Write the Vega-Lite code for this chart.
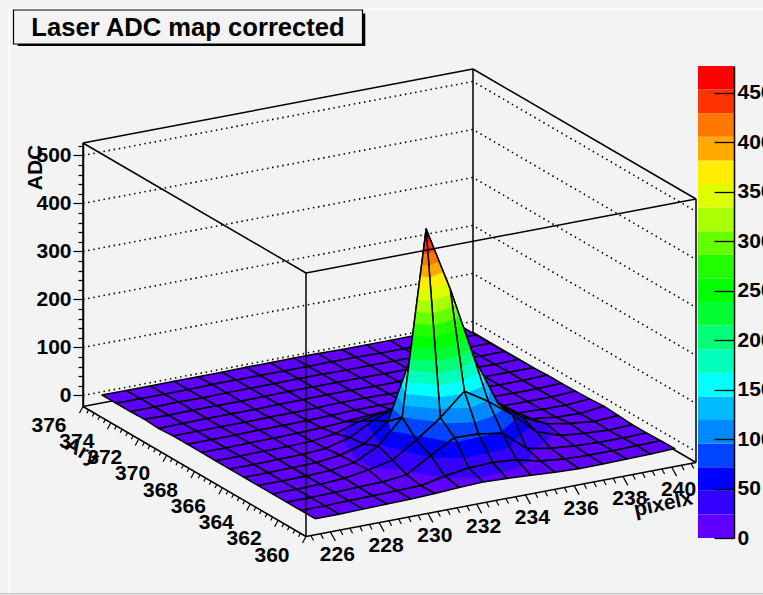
{"$schema":"https://vega.github.io/schema/vega-lite/v6.json","width":763,"height":595,"padding":0,"autosize":{"type":"none"},"background":"#f3f3f3","config":{"view":{"stroke":null}},
"datasets":{
"surface":[
{"pixel":240,"ary":375,"adc":9},{"pixel":239,"ary":375,"adc":9},{"pixel":238,"ary":375,"adc":9},{"pixel":237,"ary":375,"adc":9},{"pixel":236,"ary":375,"adc":9},{"pixel":235,"ary":375,"adc":9},{"pixel":234,"ary":375,"adc":10},{"pixel":233,"ary":375,"adc":10},{"pixel":232,"ary":375,"adc":10},{"pixel":231,"ary":375,"adc":10},{"pixel":230,"ary":375,"adc":9},{"pixel":229,"ary":375,"adc":9},{"pixel":228,"ary":375,"adc":9},{"pixel":227,"ary":375,"adc":9},{"pixel":226,"ary":375,"adc":9},{"pixel":225,"ary":375,"adc":9},
{"pixel":240,"ary":374,"adc":9},{"pixel":239,"ary":374,"adc":9},{"pixel":238,"ary":374,"adc":9},{"pixel":237,"ary":374,"adc":9},{"pixel":236,"ary":374,"adc":9},{"pixel":235,"ary":374,"adc":10},{"pixel":234,"ary":374,"adc":10},{"pixel":233,"ary":374,"adc":10},{"pixel":232,"ary":374,"adc":10},{"pixel":231,"ary":374,"adc":10},{"pixel":230,"ary":374,"adc":10},{"pixel":229,"ary":374,"adc":10},{"pixel":228,"ary":374,"adc":9},{"pixel":227,"ary":374,"adc":9},{"pixel":226,"ary":374,"adc":9},{"pixel":225,"ary":374,"adc":9},
{"pixel":240,"ary":373,"adc":9},{"pixel":239,"ary":373,"adc":9},{"pixel":238,"ary":373,"adc":9},{"pixel":237,"ary":373,"adc":10},{"pixel":236,"ary":373,"adc":10},{"pixel":235,"ary":373,"adc":10},{"pixel":234,"ary":373,"adc":10},{"pixel":233,"ary":373,"adc":11},{"pixel":232,"ary":373,"adc":11},{"pixel":231,"ary":373,"adc":10},{"pixel":230,"ary":373,"adc":10},{"pixel":229,"ary":373,"adc":10},{"pixel":228,"ary":373,"adc":9},{"pixel":227,"ary":373,"adc":10},{"pixel":226,"ary":373,"adc":9},{"pixel":225,"ary":373,"adc":9},
{"pixel":240,"ary":372,"adc":9},{"pixel":239,"ary":372,"adc":9},{"pixel":238,"ary":372,"adc":10},{"pixel":237,"ary":372,"adc":10},{"pixel":236,"ary":372,"adc":10},{"pixel":235,"ary":372,"adc":10},{"pixel":234,"ary":372,"adc":11},{"pixel":233,"ary":372,"adc":11},{"pixel":232,"ary":372,"adc":11},{"pixel":231,"ary":372,"adc":11},{"pixel":230,"ary":372,"adc":10},{"pixel":229,"ary":372,"adc":10},{"pixel":228,"ary":372,"adc":10},{"pixel":227,"ary":372,"adc":10},{"pixel":226,"ary":372,"adc":9},{"pixel":225,"ary":372,"adc":10},
{"pixel":240,"ary":371,"adc":10},{"pixel":239,"ary":371,"adc":9},{"pixel":238,"ary":371,"adc":10},{"pixel":237,"ary":371,"adc":10},{"pixel":236,"ary":371,"adc":10},{"pixel":235,"ary":371,"adc":11},{"pixel":234,"ary":371,"adc":11},{"pixel":233,"ary":371,"adc":12},{"pixel":232,"ary":371,"adc":12},{"pixel":231,"ary":371,"adc":11},{"pixel":230,"ary":371,"adc":11},{"pixel":229,"ary":371,"adc":10},{"pixel":228,"ary":371,"adc":10},{"pixel":227,"ary":371,"adc":10},{"pixel":226,"ary":371,"adc":9},{"pixel":225,"ary":371,"adc":8},
{"pixel":240,"ary":370,"adc":10},{"pixel":239,"ary":370,"adc":10},{"pixel":238,"ary":370,"adc":10},{"pixel":237,"ary":370,"adc":10},{"pixel":236,"ary":370,"adc":11},{"pixel":235,"ary":370,"adc":11},{"pixel":234,"ary":370,"adc":12},{"pixel":233,"ary":370,"adc":13},{"pixel":232,"ary":370,"adc":13},{"pixel":231,"ary":370,"adc":12},{"pixel":230,"ary":370,"adc":11},{"pixel":229,"ary":370,"adc":11},{"pixel":228,"ary":370,"adc":10},{"pixel":227,"ary":370,"adc":10},{"pixel":226,"ary":370,"adc":10},{"pixel":225,"ary":370,"adc":10},
{"pixel":240,"ary":369,"adc":12},{"pixel":239,"ary":369,"adc":10},{"pixel":238,"ary":369,"adc":10},{"pixel":237,"ary":369,"adc":11},{"pixel":236,"ary":369,"adc":11},{"pixel":235,"ary":369,"adc":12},{"pixel":234,"ary":369,"adc":14},{"pixel":233,"ary":369,"adc":15},{"pixel":232,"ary":369,"adc":15},{"pixel":231,"ary":369,"adc":13},{"pixel":230,"ary":369,"adc":12},{"pixel":229,"ary":369,"adc":11},{"pixel":228,"ary":369,"adc":11},{"pixel":227,"ary":369,"adc":10},{"pixel":226,"ary":369,"adc":10},{"pixel":225,"ary":369,"adc":10},
{"pixel":240,"ary":368,"adc":12},{"pixel":239,"ary":368,"adc":10},{"pixel":238,"ary":368,"adc":10},{"pixel":237,"ary":368,"adc":11},{"pixel":236,"ary":368,"adc":12},{"pixel":235,"ary":368,"adc":14},{"pixel":234,"ary":368,"adc":18},{"pixel":233,"ary":368,"adc":21},{"pixel":232,"ary":368,"adc":21},{"pixel":231,"ary":368,"adc":17},{"pixel":230,"ary":368,"adc":14},{"pixel":229,"ary":368,"adc":12},{"pixel":228,"ary":368,"adc":11},{"pixel":227,"ary":368,"adc":11},{"pixel":226,"ary":368,"adc":10},{"pixel":225,"ary":368,"adc":10},
{"pixel":240,"ary":367,"adc":13},{"pixel":239,"ary":367,"adc":10},{"pixel":238,"ary":367,"adc":10},{"pixel":237,"ary":367,"adc":11},{"pixel":236,"ary":367,"adc":13},{"pixel":235,"ary":367,"adc":18},{"pixel":234,"ary":367,"adc":30},{"pixel":233,"ary":367,"adc":40},{"pixel":232,"ary":367,"adc":45},{"pixel":231,"ary":367,"adc":35},{"pixel":230,"ary":367,"adc":19},{"pixel":229,"ary":367,"adc":13},{"pixel":228,"ary":367,"adc":11},{"pixel":227,"ary":367,"adc":11},{"pixel":226,"ary":367,"adc":10},{"pixel":225,"ary":367,"adc":10},
{"pixel":240,"ary":366,"adc":14},{"pixel":239,"ary":366,"adc":10},{"pixel":238,"ary":366,"adc":11},{"pixel":237,"ary":366,"adc":13},{"pixel":236,"ary":366,"adc":20},{"pixel":235,"ary":366,"adc":35},{"pixel":234,"ary":366,"adc":65},{"pixel":233,"ary":366,"adc":90},{"pixel":232,"ary":366,"adc":75},{"pixel":231,"ary":366,"adc":55},{"pixel":230,"ary":366,"adc":28},{"pixel":229,"ary":366,"adc":15},{"pixel":228,"ary":366,"adc":12},{"pixel":227,"ary":366,"adc":11},{"pixel":226,"ary":366,"adc":10},{"pixel":225,"ary":366,"adc":10},
{"pixel":240,"ary":365,"adc":16},{"pixel":239,"ary":365,"adc":10},{"pixel":238,"ary":365,"adc":12},{"pixel":237,"ary":365,"adc":18},{"pixel":236,"ary":365,"adc":30},{"pixel":235,"ary":365,"adc":60},{"pixel":234,"ary":365,"adc":110},{"pixel":233,"ary":365,"adc":200},{"pixel":232,"ary":365,"adc":200},{"pixel":231,"ary":365,"adc":70},{"pixel":230,"ary":365,"adc":32},{"pixel":229,"ary":365,"adc":18},{"pixel":228,"ary":365,"adc":12},{"pixel":227,"ary":365,"adc":11},{"pixel":226,"ary":365,"adc":10},{"pixel":225,"ary":365,"adc":10},
{"pixel":240,"ary":364,"adc":14},{"pixel":239,"ary":364,"adc":11},{"pixel":238,"ary":364,"adc":16},{"pixel":237,"ary":364,"adc":25},{"pixel":236,"ary":364,"adc":48},{"pixel":235,"ary":364,"adc":86},{"pixel":234,"ary":364,"adc":190},{"pixel":233,"ary":364,"adc":344},{"pixel":232,"ary":364,"adc":478},{"pixel":231,"ary":364,"adc":95},{"pixel":230,"ary":364,"adc":45},{"pixel":229,"ary":364,"adc":20},{"pixel":228,"ary":364,"adc":13},{"pixel":227,"ary":364,"adc":11},{"pixel":226,"ary":364,"adc":10},{"pixel":225,"ary":364,"adc":10},
{"pixel":240,"ary":363,"adc":12},{"pixel":239,"ary":363,"adc":10},{"pixel":238,"ary":363,"adc":13},{"pixel":237,"ary":363,"adc":18},{"pixel":236,"ary":363,"adc":35},{"pixel":235,"ary":363,"adc":80},{"pixel":234,"ary":363,"adc":117},{"pixel":233,"ary":363,"adc":148},{"pixel":232,"ary":363,"adc":102},{"pixel":231,"ary":363,"adc":65},{"pixel":230,"ary":363,"adc":33},{"pixel":229,"ary":363,"adc":22},{"pixel":228,"ary":363,"adc":14},{"pixel":227,"ary":363,"adc":11},{"pixel":226,"ary":363,"adc":10},{"pixel":225,"ary":363,"adc":10},
{"pixel":240,"ary":362,"adc":12},{"pixel":239,"ary":362,"adc":11},{"pixel":238,"ary":362,"adc":11},{"pixel":237,"ary":362,"adc":13},{"pixel":236,"ary":362,"adc":18},{"pixel":235,"ary":362,"adc":27},{"pixel":234,"ary":362,"adc":68},{"pixel":233,"ary":362,"adc":76},{"pixel":232,"ary":362,"adc":78},{"pixel":231,"ary":362,"adc":50},{"pixel":230,"ary":362,"adc":20},{"pixel":229,"ary":362,"adc":14},{"pixel":228,"ary":362,"adc":13},{"pixel":227,"ary":362,"adc":11},{"pixel":226,"ary":362,"adc":10},{"pixel":225,"ary":362,"adc":10},
{"pixel":240,"ary":361,"adc":13},{"pixel":239,"ary":361,"adc":12},{"pixel":238,"ary":361,"adc":11},{"pixel":237,"ary":361,"adc":11},{"pixel":236,"ary":361,"adc":13},{"pixel":235,"ary":361,"adc":18},{"pixel":234,"ary":361,"adc":30},{"pixel":233,"ary":361,"adc":34},{"pixel":232,"ary":361,"adc":32},{"pixel":231,"ary":361,"adc":25},{"pixel":230,"ary":361,"adc":14},{"pixel":229,"ary":361,"adc":13},{"pixel":228,"ary":361,"adc":12},{"pixel":227,"ary":361,"adc":11},{"pixel":226,"ary":361,"adc":10},{"pixel":225,"ary":361,"adc":10},
{"pixel":240,"ary":360,"adc":14},{"pixel":239,"ary":360,"adc":12},{"pixel":238,"ary":360,"adc":11},{"pixel":237,"ary":360,"adc":10},{"pixel":236,"ary":360,"adc":10},{"pixel":235,"ary":360,"adc":12},{"pixel":234,"ary":360,"adc":15},{"pixel":233,"ary":360,"adc":18},{"pixel":232,"ary":360,"adc":20},{"pixel":231,"ary":360,"adc":18},{"pixel":230,"ary":360,"adc":15},{"pixel":229,"ary":360,"adc":13},{"pixel":228,"ary":360,"adc":12},{"pixel":227,"ary":360,"adc":11},{"pixel":226,"ary":360,"adc":10},{"pixel":225,"ary":360,"adc":10}
],
"backBox":[
{"edge":"l","seq":0,"pixel":225,"ary":376,"adc":-23},{"edge":"l","seq":1,"pixel":225,"ary":376,"adc":526},
{"edge":"r","seq":0,"pixel":241,"ary":360,"adc":-23},{"edge":"r","seq":1,"pixel":241,"ary":360,"adc":526},
{"edge":"b","seq":0,"pixel":241,"ary":376,"adc":-23},{"edge":"b","seq":1,"pixel":241,"ary":376,"adc":526},
{"edge":"t1","seq":0,"pixel":225,"ary":376,"adc":526},{"edge":"t1","seq":1,"pixel":241,"ary":376,"adc":526},
{"edge":"t2","seq":0,"pixel":241,"ary":376,"adc":526},{"edge":"t2","seq":1,"pixel":241,"ary":360,"adc":526},
{"edge":"f1","seq":0,"pixel":225,"ary":376,"adc":-23},{"edge":"f1","seq":1,"pixel":241,"ary":376,"adc":-23},
{"edge":"f2","seq":0,"pixel":241,"ary":376,"adc":-23},{"edge":"f2","seq":1,"pixel":241,"ary":360,"adc":-23}
],
"frontBox":[
{"edge":"v","seq":0,"pixel":225,"ary":360,"adc":-23},{"edge":"v","seq":1,"pixel":225,"ary":360,"adc":526},
{"edge":"t1","seq":0,"pixel":225,"ary":360,"adc":526},{"edge":"t1","seq":1,"pixel":225,"ary":376,"adc":526},
{"edge":"t2","seq":0,"pixel":225,"ary":360,"adc":526},{"edge":"t2","seq":1,"pixel":241,"ary":360,"adc":526},
{"edge":"f1","seq":0,"pixel":225,"ary":360,"adc":-23},{"edge":"f1","seq":1,"pixel":225,"ary":376,"adc":-23},
{"edge":"f2","seq":0,"pixel":225,"ary":360,"adc":-23},{"edge":"f2","seq":1,"pixel":241,"ary":360,"adc":-23}
],
"wallGrid":[
{"adc":0,"seq":0,"pixel":225,"ary":376},{"adc":0,"seq":1,"pixel":241,"ary":376},{"adc":0,"seq":2,"pixel":241,"ary":360},
{"adc":100,"seq":0,"pixel":225,"ary":376},{"adc":100,"seq":1,"pixel":241,"ary":376},{"adc":100,"seq":2,"pixel":241,"ary":360},
{"adc":200,"seq":0,"pixel":225,"ary":376},{"adc":200,"seq":1,"pixel":241,"ary":376},{"adc":200,"seq":2,"pixel":241,"ary":360},
{"adc":300,"seq":0,"pixel":225,"ary":376},{"adc":300,"seq":1,"pixel":241,"ary":376},{"adc":300,"seq":2,"pixel":241,"ary":360},
{"adc":400,"seq":0,"pixel":225,"ary":376},{"adc":400,"seq":1,"pixel":241,"ary":376},{"adc":400,"seq":2,"pixel":241,"ary":360},
{"adc":500,"seq":0,"pixel":225,"ary":376},{"adc":500,"seq":1,"pixel":241,"ary":376},{"adc":500,"seq":2,"pixel":241,"ary":360}
],
"ticks":[
{"axis":"pixel","pixel":225.2,"ary":360},{"axis":"pixel","pixel":225.6,"ary":360},{"axis":"pixel","pixel":226,"ary":360},{"axis":"pixel","pixel":226.4,"ary":360},{"axis":"pixel","pixel":226.8,"ary":360},{"axis":"pixel","pixel":227.2,"ary":360},{"axis":"pixel","pixel":227.6,"ary":360},{"axis":"pixel","pixel":228,"ary":360},{"axis":"pixel","pixel":228.4,"ary":360},{"axis":"pixel","pixel":228.8,"ary":360},{"axis":"pixel","pixel":229.2,"ary":360},{"axis":"pixel","pixel":229.6,"ary":360},{"axis":"pixel","pixel":230,"ary":360},{"axis":"pixel","pixel":230.4,"ary":360},{"axis":"pixel","pixel":230.8,"ary":360},{"axis":"pixel","pixel":231.2,"ary":360},{"axis":"pixel","pixel":231.6,"ary":360},{"axis":"pixel","pixel":232,"ary":360},{"axis":"pixel","pixel":232.4,"ary":360},{"axis":"pixel","pixel":232.8,"ary":360},{"axis":"pixel","pixel":233.2,"ary":360},{"axis":"pixel","pixel":233.6,"ary":360},{"axis":"pixel","pixel":234,"ary":360},{"axis":"pixel","pixel":234.4,"ary":360},{"axis":"pixel","pixel":234.8,"ary":360},{"axis":"pixel","pixel":235.2,"ary":360},{"axis":"pixel","pixel":235.6,"ary":360},{"axis":"pixel","pixel":236,"ary":360},{"axis":"pixel","pixel":236.4,"ary":360},{"axis":"pixel","pixel":236.8,"ary":360},{"axis":"pixel","pixel":237.2,"ary":360},{"axis":"pixel","pixel":237.6,"ary":360},{"axis":"pixel","pixel":238,"ary":360},{"axis":"pixel","pixel":238.4,"ary":360},{"axis":"pixel","pixel":238.8,"ary":360},{"axis":"pixel","pixel":239.2,"ary":360},{"axis":"pixel","pixel":239.6,"ary":360},{"axis":"pixel","pixel":240,"ary":360},{"axis":"pixel","pixel":240.4,"ary":360},{"axis":"pixel","pixel":240.8,"ary":360},
{"axis":"ary","pixel":225,"ary":360},{"axis":"ary","pixel":225,"ary":360.4},{"axis":"ary","pixel":225,"ary":360.8},{"axis":"ary","pixel":225,"ary":361.2},{"axis":"ary","pixel":225,"ary":361.6},{"axis":"ary","pixel":225,"ary":362},{"axis":"ary","pixel":225,"ary":362.4},{"axis":"ary","pixel":225,"ary":362.8},{"axis":"ary","pixel":225,"ary":363.2},{"axis":"ary","pixel":225,"ary":363.6},{"axis":"ary","pixel":225,"ary":364},{"axis":"ary","pixel":225,"ary":364.4},{"axis":"ary","pixel":225,"ary":364.8},{"axis":"ary","pixel":225,"ary":365.2},{"axis":"ary","pixel":225,"ary":365.6},{"axis":"ary","pixel":225,"ary":366},{"axis":"ary","pixel":225,"ary":366.4},{"axis":"ary","pixel":225,"ary":366.8},{"axis":"ary","pixel":225,"ary":367.2},{"axis":"ary","pixel":225,"ary":367.6},{"axis":"ary","pixel":225,"ary":368},{"axis":"ary","pixel":225,"ary":368.4},{"axis":"ary","pixel":225,"ary":368.8},{"axis":"ary","pixel":225,"ary":369.2},{"axis":"ary","pixel":225,"ary":369.6},{"axis":"ary","pixel":225,"ary":370},{"axis":"ary","pixel":225,"ary":370.4},{"axis":"ary","pixel":225,"ary":370.8},{"axis":"ary","pixel":225,"ary":371.2},{"axis":"ary","pixel":225,"ary":371.6},{"axis":"ary","pixel":225,"ary":372},{"axis":"ary","pixel":225,"ary":372.4},{"axis":"ary","pixel":225,"ary":372.8},{"axis":"ary","pixel":225,"ary":373.2},{"axis":"ary","pixel":225,"ary":373.6},{"axis":"ary","pixel":225,"ary":374},{"axis":"ary","pixel":225,"ary":374.4},{"axis":"ary","pixel":225,"ary":374.8},{"axis":"ary","pixel":225,"ary":375.2},{"axis":"ary","pixel":225,"ary":375.6},{"axis":"ary","pixel":225,"ary":376}
],
"bands":[{"band":0,"lo":0,"hi":23.85},{"band":1,"lo":23.85,"hi":47.7},{"band":2,"lo":47.7,"hi":71.55},{"band":3,"lo":71.55,"hi":95.4},{"band":4,"lo":95.4,"hi":119.25},{"band":5,"lo":119.25,"hi":143.1},{"band":6,"lo":143.1,"hi":166.95},{"band":7,"lo":166.95,"hi":190.8},{"band":8,"lo":190.8,"hi":214.65},{"band":9,"lo":214.65,"hi":238.5},{"band":10,"lo":238.5,"hi":262.35},{"band":11,"lo":262.35,"hi":286.2},{"band":12,"lo":286.2,"hi":310.05},{"band":13,"lo":310.05,"hi":333.9},{"band":14,"lo":333.9,"hi":357.75},{"band":15,"lo":357.75,"hi":381.6},{"band":16,"lo":381.6,"hi":405.45},{"band":17,"lo":405.45,"hi":429.3},{"band":18,"lo":429.3,"hi":453.15},{"band":19,"lo":453.15,"hi":477}]
},
"layer":[
{"data":{"values":[{"side":"left","x0":0.012,"x1":0.012,"y0":0.015,"y1":1,"shade":"#ffffff"},{"side":"top","x0":0.012,"x1":1,"y0":0.015,"y1":0.015,"shade":"#ffffff"},{"side":"bottom","x0":0,"x1":1,"y0":0.998,"y1":0.998,"shade":"#c8c8c8"}]},"mark":{"type":"rule","strokeWidth":1.5},"encoding":{"x":{"field":"x0","type":"quantitative","scale":{"domain":[0,1],"range":[0,763],"nice":false,"zero":false},"axis":null},"x2":{"field":"x1"},"y":{"field":"y0","type":"quantitative","scale":{"domain":[0,1],"range":[0,595],"nice":false,"zero":false},"axis":null},"y2":{"field":"y1"},"stroke":{"field":"shade","type":"nominal","scale":null}}},
{"encoding":{"x":{"field":"sx","type":"quantitative","scale":{"domain":[0,763],"range":[0,763],"nice":false,"zero":false},"axis":null},"y":{"field":"sy","type":"quantitative","scale":{"domain":[0,595],"range":[0,595],"nice":false,"zero":false},"axis":null}},
"layer":[
{"data":{"name":"wallGrid"},"transform":[{"calculate":"(datum.pixel-225)/16","as":"lx"},{"calculate":"(datum.ary-360)/16","as":"ly"},{"calculate":"306+390*datum.lx-223*datum.ly","as":"sx"},{"calculate":"536.5-74*datum.lx-130*datum.ly-(datum.adc+23)*0.48","as":"sy"}],"mark":{"type":"line","stroke":"#000","strokeWidth":1.6,"strokeDash":[1.5,3.7]},"encoding":{"detail":{"field":"adc"},"order":{"field":"seq"}}},
{"data":{"name":"backBox"},"transform":[{"calculate":"(datum.pixel-225)/16","as":"lx"},{"calculate":"(datum.ary-360)/16","as":"ly"},{"calculate":"306+390*datum.lx-223*datum.ly","as":"sx"},{"calculate":"536.5-74*datum.lx-130*datum.ly-(datum.adc+23)*0.48","as":"sy"}],"mark":{"type":"line","stroke":"#000","strokeWidth":1.5},"encoding":{"detail":{"field":"edge"},"order":{"field":"seq"}}},
{"data":{"name":"surface"},"transform":[
{"calculate":"['a','b','c','d']","as":"corner"},{"flatten":["corner"]},
{"calculate":"datum.pixel-225-((datum.corner=='b'||datum.corner=='c')?1:0)","as":"qi"},
{"calculate":"datum.ary-360-((datum.corner=='c'||datum.corner=='d')?1:0)","as":"qj"},
{"filter":"datum.qi>=0&&datum.qi<15&&datum.qj>=0&&datum.qj<15"},
{"pivot":"corner","value":"adc","groupby":["qi","qj"],"op":"max"},
{"calculate":"[datum.a,datum.b,datum.c,datum.d]","as":"zs"},
{"calculate":"max(datum.a,datum.b,datum.c,datum.d)","as":"zmax"},
{"calculate":"[0,1,2,3,4,5,6,7,8,9,10,11,12,13,14,15,16,17,18,19,20]","as":"lv"},{"flatten":["lv"]},
{"filter":"datum.lv==20||datum.lv*23.85<=datum.zmax"},
{"calculate":"[0,1,2,3,4]","as":"c"},{"flatten":["c"]},
{"calculate":"[0,1]","as":"s"},{"flatten":["s"]},
{"calculate":"(datum.lv==0||datum.lv==20)?-1000000:datum.lv*23.85","as":"cut"},
{"calculate":"datum.zs[datum.c%4]","as":"z0"},
{"calculate":"datum.zs[(datum.c+1)%4]","as":"z1"},
{"filter":"datum.lv==20?datum.s==0:(datum.c<4&&(datum.s==0?datum.z0>=datum.cut:(datum.z0-datum.cut)*(datum.z1-datum.cut)<0))"},
{"calculate":"datum.s==0?0:(datum.cut-datum.z0)/(datum.z1-datum.z0)","as":"t"},
{"calculate":"[0,1,1,0][datum.c%4]+datum.t*([0,1,1,0][(datum.c+1)%4]-[0,1,1,0][datum.c%4])","as":"fx"},
{"calculate":"[0,0,1,1][datum.c%4]+datum.t*([0,0,1,1][(datum.c+1)%4]-[0,0,1,1][datum.c%4])","as":"fy"},
{"calculate":"datum.z0+datum.t*(datum.z1-datum.z0)","as":"zv"},
{"calculate":"(datum.qi+datum.fx+0.39)/16.26","as":"lx"},
{"calculate":"(datum.qj+datum.fy+0.02)/15.7","as":"ly"},
{"calculate":"306+390*datum.lx-223*datum.ly","as":"sx"},
{"calculate":"536.5-74*datum.lx-130*datum.ly-(datum.zv+23)*0.48","as":"sy"},
{"calculate":"datum.qi*10000+datum.qj*100+datum.lv","as":"poly"},
{"calculate":"datum.c*2+datum.s","as":"seq"}
],
"mark":{"type":"line","strokeWidth":1.5,"strokeJoin":"round"},
"encoding":{"detail":{"field":"poly"},"order":{"field":"seq"},
"fill":{"condition":{"test":"datum.lv==20","value":"transparent"},"field":"lv","type":"ordinal","legend":null,"scale":{"domain":[0,1,2,3,4,5,6,7,8,9,10,11,12,13,14,15,16,17,18,19],"range":["#5f00ff","#3300ff","#0000ff","#0044ff","#0088ff","#00bbff","#00ffff","#00ffbb","#00ff77","#00ff33","#00ff00","#22ff00","#66ff00","#aaff00","#ddff00","#ffee00","#ffaa00","#ff7700","#ff3300","#ff0000"]}},
"stroke":{"condition":{"test":"datum.lv==20","value":"#000000"},"value":"transparent"}}},
{"data":{"name":"frontBox"},"transform":[{"calculate":"(datum.pixel-225)/16","as":"lx"},{"calculate":"(datum.ary-360)/16","as":"ly"},{"calculate":"306+390*datum.lx-223*datum.ly","as":"sx"},{"calculate":"536.5-74*datum.lx-130*datum.ly-(datum.adc+23)*0.48","as":"sy"}],"mark":{"type":"line","stroke":"#000","strokeWidth":1.5},"encoding":{"detail":{"field":"edge"},"order":{"field":"seq"}}},
{"data":{"name":"ticks"},"transform":[{"calculate":"(datum.pixel-225)/16","as":"lx"},{"calculate":"(datum.ary-360)/16","as":"ly"},{"calculate":"306+390*datum.lx-223*datum.ly","as":"sx"},{"calculate":"536.5-74*datum.lx-130*datum.ly","as":"sy"},{"calculate":"datum.axis=='pixel'?(datum.pixel%2==0):(datum.ary%2==0)","as":"major"},{"calculate":"datum.sx+(datum.axis=='pixel'?(datum.major?5:2.7):(datum.major?-3.5:-1.8))","as":"ex"},{"calculate":"datum.sy+(datum.axis=='pixel'?(datum.major?9:5):(datum.major?6.5:3.5))","as":"ey"}],"mark":{"type":"rule","stroke":"#000","strokeWidth":1.2},"encoding":{"x2":{"field":"ex"},"y2":{"field":"ey"}}},
{"data":{"name":"ticks"},"transform":[{"filter":"datum.axis=='pixel'&&datum.pixel%2==0"},{"calculate":"(datum.pixel-225)/16","as":"lx"},{"calculate":"306+390*datum.lx","as":"sx"},{"calculate":"536.5-74*datum.lx","as":"sy"}],"mark":{"type":"text","font":"Liberation Sans","fontWeight":"bold","fontSize":21,"dx":7,"dy":23,"color":"#000"},"encoding":{"text":{"field":"pixel","type":"quantitative"}}},
{"data":{"name":"ticks"},"transform":[{"filter":"datum.axis=='ary'&&datum.ary%2==0"},{"calculate":"(datum.ary-360)/16","as":"ly"},{"calculate":"306-223*datum.ly","as":"sx"},{"calculate":"536.5-130*datum.ly","as":"sy"}],"mark":{"type":"text","font":"Liberation Sans","fontWeight":"bold","fontSize":21,"dx":-34,"dy":19,"color":"#000"},"encoding":{"text":{"field":"ary","type":"quantitative"}}},
{"data":{"values":[{"label":"pixelx","pixel":239.5,"ary":360}]},"transform":[{"calculate":"(datum.pixel-225)/16","as":"lx"},{"calculate":"306+390*datum.lx","as":"sx"},{"calculate":"536.5-74*datum.lx","as":"sy"}],"mark":{"type":"text","font":"Liberation Sans","fontWeight":"bold","fontSize":21,"angle":348,"dx":-3.4,"dy":35,"color":"#000"},"encoding":{"text":{"field":"label"}}},
{"data":{"values":[{"label":"Ary","pixel":225,"ary":373}]},"transform":[{"calculate":"(datum.ary-360)/16","as":"ly"},{"calculate":"306-223*datum.ly","as":"sx"},{"calculate":"536.5-130*datum.ly","as":"sy"}],"mark":{"type":"text","font":"Liberation Sans","fontWeight":"bold","fontSize":21,"angle":30,"dx":-26.7,"dy":39.7,"color":"#000"},"encoding":{"text":{"field":"label"}}}
]},
{"data":{"values":[{"adc":0}]},"mark":{"type":"point","opacity":0},"encoding":{"y":{"field":"adc","type":"quantitative","scale":{"domain":[-23,526],"range":[406.5,143],"nice":false,"zero":false},"axis":{"orient":"left","offset":-83,"values":[0,20,40,60,80,100,120,140,160,180,200,220,240,260,280,300,320,340,360,380,400,420,440,460,480,500,520],"labelExpr":"datum.value%100==0?datum.label:''","format":"d","tickSize":{"condition":{"test":"datum.value%100==0","value":10},"value":5},"tickColor":"#000","tickWidth":1.2,"domainColor":"#000","domainWidth":1.5,"labelColor":"#000","labelFont":"Liberation Sans","labelFontWeight":"bold","labelFontSize":21,"labelPadding":2,"labelOverlap":false,"labelFlush":false,"grid":false,"title":"ADC","titleFont":"Liberation Sans","titleFontWeight":"bold","titleFontSize":21,"titleColor":"#000","titleX":-38,"titleY":167,"titleAngle":270}}}},
{"data":{"name":"bands"},"mark":{"type":"rect"},"encoding":{"x":{"datum":0,"scale":{"domain":[0,1],"range":[698,734]},"axis":null},"x2":{"datum":1},"y":{"field":"lo","type":"quantitative","scale":{"domain":[0,477],"range":[538,66],"nice":false,"zero":false},"axis":{"orient":"right","offset":-29,"values":[0,50,100,150,200,250,300,350,400,450],"format":"d","tickSize":-20,"tickColor":"#000","tickWidth":1.3,"domainColor":"#000","domainWidth":1.5,"labelColor":"#000","labelFont":"Liberation Sans","labelFontWeight":"bold","labelFontSize":21,"labelPadding":23,"labelOverlap":false,"labelFlush":false,"grid":false,"title":null,"zindex":1}},"y2":{"field":"hi"},"fill":{"field":"band","type":"ordinal","legend":null,"scale":{"domain":[0,1,2,3,4,5,6,7,8,9,10,11,12,13,14,15,16,17,18,19],"range":["#5f00ff","#3300ff","#0000ff","#0044ff","#0088ff","#00bbff","#00ffff","#00ffbb","#00ff77","#00ff33","#00ff00","#22ff00","#66ff00","#aaff00","#ddff00","#ffee00","#ffaa00","#ff7700","#ff3300","#ff0000"]}}}},
{"encoding":{},"data":{"values":[{"label":"Laser ADC map corrected"}]},"layer":[
{"mark":{"type":"rect","fill":"#000"},"encoding":{"x":{"datum":0.012,"scale":{"domain":[0,1],"range":[13.5,362.5]},"axis":null},"x2":{"datum":1.008},"y":{"datum":0.1,"scale":{"domain":[0,1],"range":[10,44]},"axis":null},"y2":{"datum":1.06}}},
{"mark":{"type":"rect","fill":"#f3f3f3","stroke":"#000","strokeWidth":1.2},"encoding":{"x":{"datum":0},"x2":{"datum":1},"y":{"datum":0},"y2":{"datum":1}}},
{"mark":{"type":"text","font":"Liberation Sans","fontWeight":"bold","fontSize":25.6,"color":"#000"},"encoding":{"x":{"datum":0.5},"y":{"datum":0.52},"text":{"field":"label"}}}
]}
],
"resolve":{"scale":{"x":"independent","y":"independent"},"axis":{"x":"independent","y":"independent"}}
}
